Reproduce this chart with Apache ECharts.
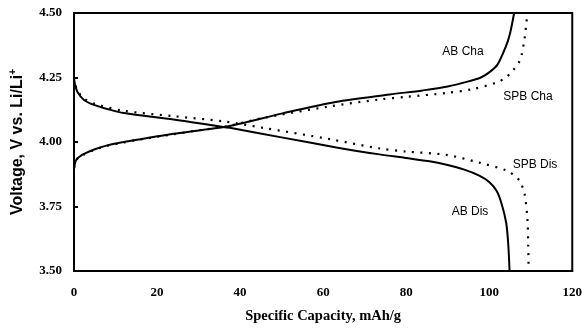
<!DOCTYPE html>
<html><head><meta charset="utf-8">
<script src="https://cdn.jsdelivr.net/npm/echarts@6/dist/echarts.min.js"></script>
<style>html,body{margin:0;padding:0;background:#fff}#c{width:585px;height:329px}</style>
</head><body><div id="c"></div>
<script>
const xTicks = [0, 20, 40, 60, 80, 100, 120];
const yTicks = ['3.50', '3.75', '4.00', '4.25', '4.50'];

const abChaX = [0, 0.5, 1.5, 2.4, 5, 8, 12, 16, 24, 30, 37.5, 50, 63, 76, 84, 90, 95, 98, 100, 102, 104, 105, 106];
const abChaY = [3.895, 3.93, 3.945, 3.954, 3.972, 3.987, 4.0, 4.011, 4.032, 4.045, 4.062, 4.11, 4.155, 4.184, 4.2, 4.215, 4.235, 4.25, 4.27, 4.30, 4.37, 4.42, 4.5];

const spbChaX = [0, 1, 2.4, 5, 8, 12, 16, 24, 30, 37.5, 45.5, 61.6, 73.6, 80, 89.7, 96, 101.7, 104, 105.6, 107, 107.7, 108.5, 109.2];
const spbChaY = [3.9, 3.94, 3.952, 3.97, 3.985, 3.998, 4.01, 4.03, 4.045, 4.063, 4.093, 4.138, 4.165, 4.175, 4.19, 4.205, 4.23, 4.25, 4.275, 4.305, 4.33, 4.40, 4.5];

const abDisX = [0, 0.3, 0.8, 2.4, 4.8, 8, 12, 24, 34.4, 37.5, 50.3, 63.2, 73.6, 80, 86, 89.7, 94, 97.6, 100, 101.8, 103, 104.1, 104.6, 104.9];
const abDisY = [4.245, 4.22, 4.195, 4.163, 4.144, 4.128, 4.112, 4.087, 4.062, 4.055, 4.017, 3.979, 3.952, 3.938, 3.924, 3.912, 3.893, 3.87, 3.845, 3.81, 3.76, 3.686, 3.6, 3.5];

const spbDisX = [0, 0.3, 0.8, 2.4, 5, 12, 24, 36, 45.5, 61.6, 73.6, 80, 89.7, 97.6, 104.1, 106, 107.3, 108.5, 109.2, 109.4, 109.5];
const spbDisY = [4.25, 4.225, 4.2, 4.169, 4.148, 4.121, 4.10, 4.08, 4.055, 4.011, 3.975, 3.963, 3.95, 3.92, 3.89, 3.87, 3.85, 3.80, 3.70, 3.6, 3.5];

const curveLabels = ['AB Cha', 'SPB Cha', 'SPB Dis', 'AB Dis'];

function pairs(xs, ys) { return xs.map((x, i) => [x, ys[i]]); }

const chart = echarts.init(document.getElementById('c'));
const serif = '"Liberation Serif", "Times New Roman", serif';
const sans = '"Liberation Sans", Arial, sans-serif';
const solid = {color: '#000', width: 2, type: 'solid'};
const dotted = {color: '#000', width: 2.2, type: [2, 6.5]};

chart.setOption({
  animation: false,
  grid: {left: 74, right: 12, top: 13, bottom: 53, show: true, borderColor: '#000', borderWidth: 2},
  xAxis: {
    type: 'value', min: 0, max: 120, interval: 20,
    axisLine: {show: true, lineStyle: {color: '#000', width: 2}},
    axisTick: {show: false},
    splitLine: {show: false},
    axisLabel: {color: '#000', fontFamily: serif, fontWeight: 'bold', fontSize: 13, margin: 15,
      formatter: v => String(xTicks[xTicks.indexOf(v)])},
    name: 'Specific Capacity, mAh/g', nameLocation: 'middle', nameGap: 38,
    nameTextStyle: {color: '#000', fontFamily: serif, fontWeight: 'bold', fontSize: 14.5}
  },
  yAxis: {
    type: 'value', min: 3.5, max: 4.5, interval: 0.25,
    axisLine: {show: true, lineStyle: {color: '#000', width: 2}},
    axisTick: {show: true, inside: true, length: 4, lineStyle: {color: '#000', width: 2}},
    splitLine: {show: false},
    axisLabel: {color: '#000', fontFamily: serif, fontWeight: 'bold', fontSize: 13, margin: 12,
      formatter: v => yTicks[Math.round((v - 3.5) / 0.25)]},
    name: 'Voltage, V vs. Li/Li{sup|+}', nameLocation: 'middle', nameGap: 46, nameRotate: 90,
    nameTextStyle: {color: '#000', fontFamily: sans, fontWeight: 'bold', fontSize: 16,
      rich: {sup: {fontFamily: sans, fontWeight: 'bold', fontSize: 10, verticalAlign: 'top', padding: [0, 0, 10, 0]}}}
  },
  series: [
    {name: 'AB Cha', type: 'line', data: pairs(abChaX, abChaY), smooth: 0.3, symbol: 'none', lineStyle: solid},
    {name: 'SPB Cha', type: 'line', data: pairs(spbChaX, spbChaY), smooth: 0.3, symbol: 'none', lineStyle: dotted},
    {name: 'AB Dis', type: 'line', data: pairs(abDisX, abDisY), smooth: 0.3, symbol: 'none', lineStyle: solid},
    {name: 'SPB Dis', type: 'line', data: pairs(spbDisX, spbDisY), smooth: 0.3, symbol: 'none', lineStyle: dotted}
  ],
  graphic: [
    {type: 'text', x: 463, y: 52, style: {text: curveLabels[0], font: '12px ' + sans, fill: '#000', textAlign: 'center', textVerticalAlign: 'middle'}},
    {type: 'text', x: 528, y: 97, style: {text: curveLabels[1], font: '12px ' + sans, fill: '#000', textAlign: 'center', textVerticalAlign: 'middle'}},
    {type: 'text', x: 535, y: 165, style: {text: curveLabels[2], font: '12px ' + sans, fill: '#000', textAlign: 'center', textVerticalAlign: 'middle'}},
    {type: 'text', x: 470, y: 212, style: {text: curveLabels[3], font: '12px ' + sans, fill: '#000', textAlign: 'center', textVerticalAlign: 'middle'}}
  ]
});
</script></body></html>
